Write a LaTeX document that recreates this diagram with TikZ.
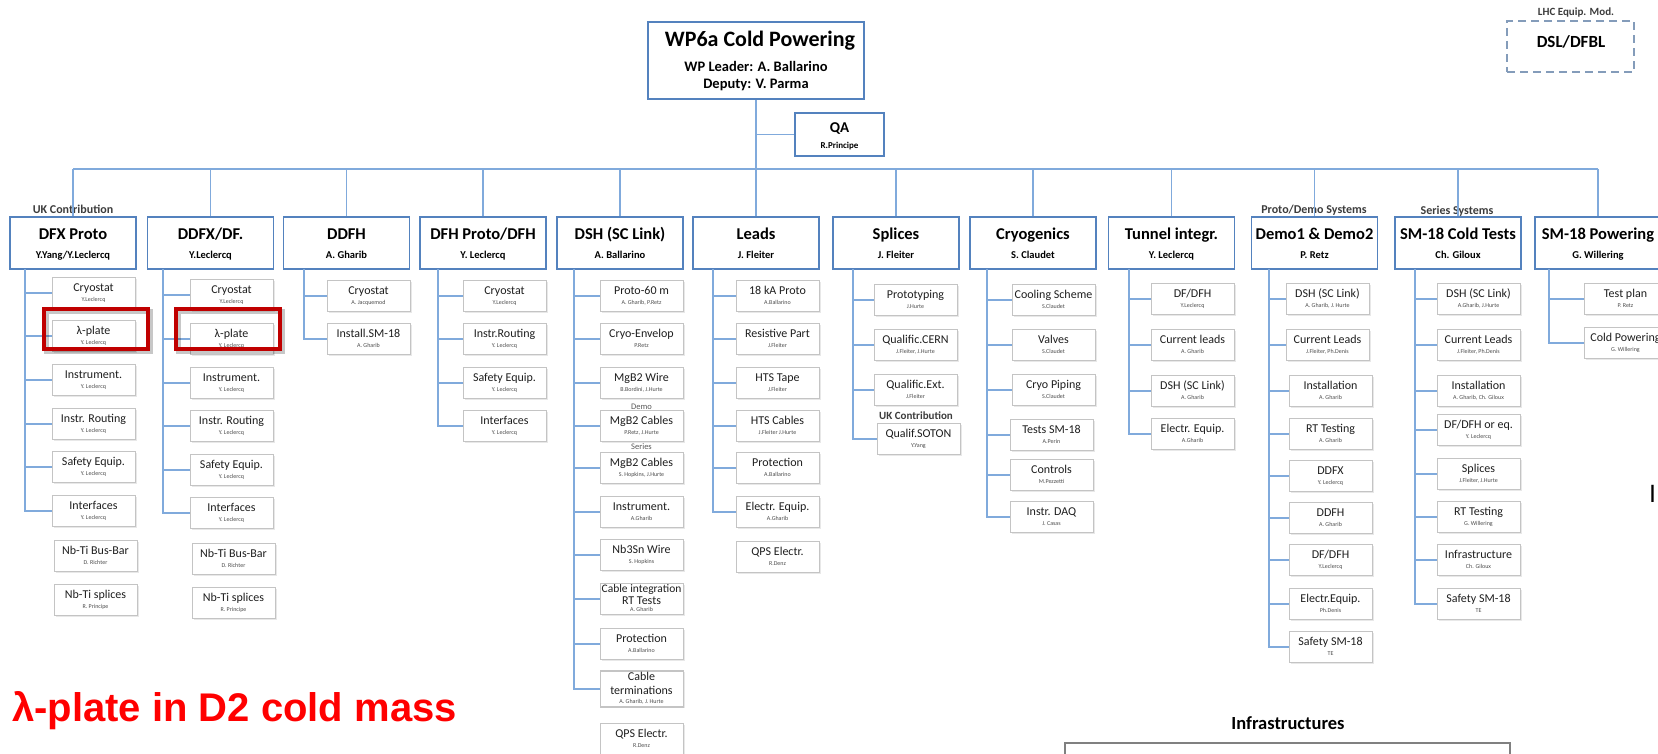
\documentclass[tikz,border=0pt]{standalone}
\usepackage{fontspec}
\setmainfont{Carlito}
\newfontfamily\arialf{Liberation Sans}
\usetikzlibrary{calc,shadows}

\definecolor{hdrblue}{RGB}{84,130,190}
\definecolor{connblue}{RGB}{128,170,220}
\definecolor{itemgray}{RGB}{196,196,196}
\definecolor{hlred}{RGB}{192,0,0}
\definecolor{dashblue}{RGB}{132,156,186}
\definecolor{labgray}{RGB}{60,60,60}

\newcommand\fs[1]{\fontsize{#1}{#1}\selectfont}

\tikzset{
 hbox/.style={draw=hdrblue, line width=1.8pt, fill=white, minimum width=126pt, minimum height=52pt, inner sep=0pt},
 htitle/.style={font=\bfseries\fs{16.5}, anchor=base, inner sep=0pt},
 hsub/.style={font=\bfseries\fs{10.5}, anchor=base, inner sep=0pt},
 ibox/.style={draw=itemgray, line width=1.4pt, fill=white, minimum width=83pt, minimum height=31pt, inner sep=0pt, anchor=west,
   drop shadow={shadow xshift=1.2pt, shadow yshift=-1.2pt, opacity=0.18}},
 ititle/.style={font=\fs{12}, text=black!88, anchor=base, inner sep=0pt},
 isub/.style={font=\fs{6}, text=black!70, anchor=base, inner sep=0pt},
 conn/.style={draw=connblue, line width=1.8pt},
 grplabel/.style={font=\bfseries\fs{12}, text=labgray, anchor=base, inner sep=0pt},
 hlbox/.style={draw=hlred, line width=4pt},
 hlshadow/.style={draw=black, opacity=0.22, line width=5pt},
}

\newcommand\hdr[4]{%
  \node[hbox] (#1) at (#2,243) {};
  \node[htitle] (#1t) at (#2,239.5) {#3};
  \node[hsub] (#1s) at (#2,258.5) {#4};
}
\newcommand\itm[5]{%
  \node[ibox] (#1) at (#2,#3) {};
  \node[ititle] (#1t) at ({#2+41.5},{#3-1.5}) {#4};
  \node[isub] (#1s) at ({#2+41.5},{#3+8.5}) {#5};
}

\begin{document}
\begin{tikzpicture}[x=1pt,y=-1pt]
\useasboundingbox (0,0) rectangle (1658,754);

% ---- top
\node[hbox, minimum width=216pt, minimum height=77pt] (wp) at (756,60.5) {};
\node[anchor=base, font=\bfseries\fs{22}, inner sep=0pt] (wpt) at (760,47) {WP6a Cold Powering};
\node[anchor=base, font=\bfseries\fs{14.5}, inner sep=0pt] (wpl) at (756,71.5) {WP Leader: A. Ballarino};
\node[anchor=base, font=\bfseries\fs{14.5}, inner sep=0pt] (wpd) at (756,88.5) {Deputy: V. Parma};

\node[hbox, minimum width=89pt, minimum height=43pt] (qa) at (839.5,134.5) {};
\node[anchor=base, font=\bfseries\fs{15}, inner sep=0pt] (qat) at (839.5,133) {QA};
\node[anchor=base, font=\bfseries\fs{9}, inner sep=0pt] (qas) at (839.5,148.5) {R.Principe};

% ---- LHC equip
\node[anchor=base, font=\bfseries\fs{11}, text=labgray, inner sep=0pt] (lhcl) at (1576,15.5) {LHC Equip. Mod.};
\node[draw=dashblue, line width=2.2pt, dash pattern=on 8pt off 5pt, minimum width=127pt, minimum height=51pt, inner sep=0pt] (lhc) at (1570.5,46.5) {};
\node[anchor=base, font=\bfseries\fs{17}, inner sep=0pt] (lhct) at (1571,47.5) {DSL/DFBL};

\coordinate (bar) at (0,169);

% ---- headers
\hdr{h1}{73}{DFX Proto}{Y.Yang/Y.Leclercq}
\hdr{h2}{210.5}{DDFX/DF.}{Y.Leclercq}
\hdr{h3}{346.5}{DDFH}{A. Gharib}
\hdr{h4}{483}{DFH Proto/DFH}{Y. Leclercq}
\hdr{h5}{620}{DSH (SC Link)}{A. Ballarino}
\hdr{h6}{756}{Leads}{J. Fleiter}
\hdr{h7}{896}{Splices}{J. Fleiter}
\hdr{h8}{1033}{Cryogenics}{S. Claudet}
\hdr{h9}{1171.5}{Tunnel integr.}{Y. Leclercq}
\hdr{h10}{1314.5}{Demo1 \& Demo2}{P. Retz}
\hdr{h11}{1458}{SM-18 Cold Tests}{Ch. Giloux}
\hdr{h12}{1598}{SM-18 Powering}{G. Willering}

\node[grplabel] (uk1) at (73,214) {UK Contribution};
\node[grplabel] (pds) at (1314,214) {Proto/Demo Systems};
\node[grplabel] (ss) at (1457,215) {Series Systems};

% ---- top connectors
\draw[conn] (wp.south) -- (wp.south |- bar);
\draw[conn] (wp.south |- qa.west) -- (qa.west);
\draw[conn] (h1.north |- bar) -- (h12.north |- bar);
\foreach \h in {h1,h2,h3,h4,h5,h6,h7,h8,h9,h10,h11,h12}
  \draw[conn] (\h.north |- bar) -- (\h.north);

% ---- column vertical origins
\coordinate (v1) at (25,269);
\coordinate (v2) at (163,269);
\coordinate (v3) at (304,269);
\coordinate (v4) at (438,269);
\coordinate (v5) at (574,269);
\coordinate (v6) at (713,269);
\coordinate (v7) at (853,269);
\coordinate (v8) at (987,269);
\coordinate (v9) at (1129,269);
\coordinate (v10) at (1269,269);
\coordinate (v11) at (1415,269);
\coordinate (v12) at (1549,269);

% ---- column 1 DFX Proto
\itm{a1}{52}{293}{Cryostat}{Y.Leclercq}
\itm{a2}{52}{336}{λ-plate}{Y. Leclercq}
\itm{a3}{52}{380}{Instrument.}{Y. Leclercq}
\itm{a4}{52}{424}{Instr. Routing}{Y. Leclercq}
\itm{a5}{52}{467}{Safety Equip.}{Y. Leclercq}
\itm{a6}{52}{511}{Interfaces}{Y. Leclercq}
\itm{a7}{54}{556}{Nb-Ti Bus-Bar}{D. Richter}
\itm{a8}{54}{600}{Nb-Ti splices}{R. Principe}

% ---- column 2 DDFX
\itm{b1}{190}{295}{Cryostat}{Y.Leclercq}
\itm{b2}{190}{339}{λ-plate}{Y. Leclercq}
\itm{b3}{190}{383}{Instrument.}{Y. Leclercq}
\itm{b4}{190}{426}{Instr. Routing}{Y. Leclercq}
\itm{b5}{190}{470}{Safety Equip.}{Y. Leclercq}
\itm{b6}{190}{513}{Interfaces}{Y. Leclercq}
\itm{b7}{192}{559}{Nb-Ti Bus-Bar}{D. Richter}
\itm{b8}{192}{603}{Nb-Ti splices}{R. Principe}

% ---- column 3 DDFH
\itm{c1}{327}{296}{Cryostat}{A. Jacquemod}
\itm{c2}{327}{339}{Install.SM-18}{A. Gharib}

% ---- column 4 DFH
\itm{d1}{463}{296}{Cryostat}{Y.Leclercq}
\itm{d2}{463}{339}{Instr.Routing}{Y. Leclercq}
\itm{d3}{463}{383}{Safety Equip.}{Y. Leclercq}
\itm{d4}{463}{426}{Interfaces}{Y. Leclercq}

% ---- column 5 DSH
\itm{e1}{600}{296}{Proto-60 m}{A. Gharib, P.Retz}
\itm{e2}{600}{339}{Cryo-Envelop}{P.Retz}
\itm{e3}{600}{383}{MgB2 Wire}{B.Bordini, J.Hurte}
\itm{e4}{600}{426}{MgB2 Cables}{P.Retz, J.Hurte}
\itm{e5}{600}{468}{MgB2 Cables}{S. Hopkins, J.Hurte}
\itm{e6}{600}{512}{Instrument.}{A.Gharib}
\itm{e7}{600}{555}{Nb3Sn Wire}{S. Hopkins}
\node[ibox] (e8) at (600,599) {};
\node[ititle, font=\fs{11.5}] (e8t) at (641.5,592) {Cable integration};
\node[ititle] (e8u) at (641.5,604.5) {RT Tests};
\node[isub] (e8s) at (641.5,611.5) {A. Gharib};
\itm{e9}{600}{644}{Protection}{A.Ballarino}
\node[ibox, minimum height=36pt] (e10) at (600,689) {};
\node[ititle] (e10t) at (641.5,680) {Cable};
\node[ititle] (e10u) at (641.5,694) {terminations};
\node[isub] (e10s) at (641.5,703) {A. Gharib, J. Hurte};
\itm{e11}{600}{739}{QPS Electr.}{R.Denz}
\node[anchor=base, font=\fs{8.5}, text=black!65, inner sep=0pt] (demol) at (641.5,409) {Demo};
\node[anchor=base, font=\fs{8.5}, text=black!65, inner sep=0pt] (seril) at (641.5,449) {Series};

% ---- column 6 Leads
\itm{f1}{736}{296}{18 kA Proto}{A.Ballarino}
\itm{f2}{736}{339}{Resistive Part}{J.Fleiter}
\itm{f3}{736}{383}{HTS Tape}{J.Fleiter}
\itm{f4}{736}{426}{HTS Cables}{J.Fleiter J.Hurte}
\itm{f5}{736}{468}{Protection}{A.Ballarino}
\itm{f6}{736}{512}{Electr. Equip.}{A.Gharib}
\itm{f7}{736}{557}{QPS Electr.}{R.Denz}

% ---- column 7 Splices
\itm{g1}{874}{300}{Prototyping}{J.Hurte}
\itm{g2}{874}{345}{Qualific.CERN}{J.Fleiter, J.Hurte}
\itm{g3}{874}{390}{Qualific.Ext.}{J.Fleiter}
\node[anchor=base, font=\bfseries\fs{11}, text=labgray, inner sep=0pt] (uk2) at (916,419) {UK Contribution};
\itm{g4}{877}{439}{Qualif.SOTON}{Y.Yang}

% ---- column 8 Cryogenics
\itm{h1i}{1012}{300}{Cooling Scheme}{S.Claudet}
\itm{h2i}{1012}{345}{Valves}{S.Claudet}
\itm{h3i}{1012}{390}{Cryo Piping}{S.Claudet}
\itm{h4i}{1010}{435}{Tests SM-18}{A.Perin}
\itm{h5i}{1010}{475}{Controls}{M.Pezzetti}
\itm{h6i}{1010}{517}{Instr. DAQ}{J. Casas}

% ---- column 9 Tunnel
\itm{i1}{1151}{299}{DF/DFH}{Y.Leclercq}
\itm{i2}{1151}{345}{Current leads}{A. Gharib}
\itm{i3}{1151}{391}{DSH (SC Link)}{A. Gharib}
\itm{i4}{1151}{434}{Electr. Equip.}{A.Gharib}

% ---- column 10 Demo
\itm{j1}{1286}{299}{DSH (SC Link)}{A. Gharib, J. Hurte}
\itm{j2}{1286}{345}{Current Leads}{J.Fleiter, Ph.Denis}
\itm{j3}{1289}{391}{Installation}{A. Gharib}
\itm{j4}{1289}{434}{RT Testing}{A. Gharib}
\itm{j5}{1289}{476}{DDFX}{Y. Leclercq}
\itm{j6}{1289}{518}{DDFH}{A. Gharib}
\itm{j7}{1289}{560}{DF/DFH}{Y.Leclercq}
\itm{j8}{1289}{604}{Electr.Equip.}{Ph.Denis}
\itm{j9}{1289}{647}{Safety SM-18}{TE}

% ---- column 11 SM-18 Cold Tests
\itm{k1}{1437}{299}{DSH (SC Link)}{A.Gharib, J.Hurte}
\itm{k2}{1437}{345}{Current Leads}{J.Fleiter, Ph.Denis}
\itm{k3}{1437}{391}{Installation}{A. Gharib, Ch. Giloux}
\itm{k4}{1437}{430}{DF/DFH or eq.}{Y. Leclercq}
\itm{k5}{1437}{474}{Splices}{J.Fleiter, J.Hurte}
\itm{k6}{1437}{517}{RT Testing}{G. Willering}
\itm{k7}{1437}{560}{Infrastructure}{Ch. Giloux}
\itm{k8}{1437}{604}{Safety SM-18}{TE}

% ---- column 12 SM-18 Powering
\itm{l1}{1584}{299}{Test plan}{P. Retz}
\itm{l2}{1584}{343}{Cold Powering}{G. Willering}

% ---- item connectors
\foreach \n in {a1,a2,a3,a4,a5,a6} \draw[conn] (v1) |- (\n.west);
\foreach \n in {b1,b2,b3,b4,b5,b6} \draw[conn] (v2) |- (\n.west);
\foreach \n in {c1,c2} \draw[conn] (v3) |- (\n.west);
\foreach \n in {d1,d2,d3,d4} \draw[conn] (v4) |- (\n.west);
\foreach \n in {e1,e2,e3,e4,e5,e6,e7,e8,e9,e10} \draw[conn] (v5) |- (\n.west);
\foreach \n in {f1,f2,f3,f4,f5,f6} \draw[conn] (v6) |- (\n.west);
\foreach \n in {g1,g2,g3,g4} \draw[conn] (v7) |- (\n.west);
\foreach \n in {h1i,h2i,h3i,h4i,h5i,h6i} \draw[conn] (v8) |- (\n.west);
\foreach \n in {i1,i2,i3,i4} \draw[conn] (v9) |- (\n.west);
\foreach \n in {j1,j2,j3,j4,j5,j6,j7,j8,j9} \draw[conn] (v10) |- (\n.west);
\foreach \n in {k1,k2,k3,k4,k5,k6,k7,k8} \draw[conn] (v11) |- (\n.west);
\foreach \n in {l1,l2} \draw[conn] (v12) |- (\n.west);

% ---- red highlights
\draw[hlshadow] (46.5,311.5) rectangle (150.5,351.5);
\draw[hlbox] (44,309) rectangle (148,349);
\draw[hlshadow] (178.5,311.5) rectangle (282.5,351.5);
\draw[hlbox] (176,309) rectangle (280,349);

% ---- bottom texts
\node[anchor=base west, font=\arialf\bfseries\fs{40}, text=red, inner sep=0pt] (lam) at (12,721) {λ-plate in D2 cold mass};
\node[anchor=base, font=\bfseries\fs{18.5}, inner sep=0pt] (infl) at (1288,729) {Infrastructures};
\draw[draw=black!50, line width=1.5pt] (1065,743) rectangle (1510,775);
\node[anchor=base west, font=\arialf\fs{25}, inner sep=0pt] (ichr) at (1649,502) {I};
\end{tikzpicture}
\end{document}
